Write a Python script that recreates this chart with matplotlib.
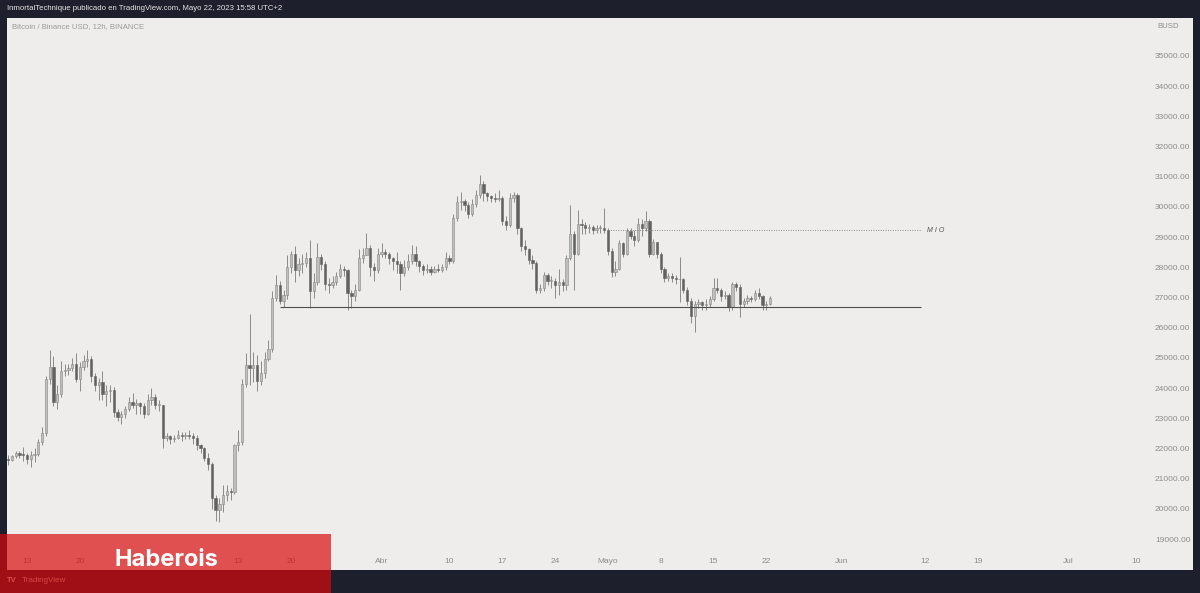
import matplotlib
matplotlib.use('Agg')
import matplotlib.pyplot as plt
import matplotlib.dates as mdates
from matplotlib.patches import Rectangle
import numpy as np
import pandas as pd

# Bitcoin / Binance USD, 12h candles, from 2023-02-10 12:00
first_open = 21650
closes = [
    21620, 21750, 21860, 21800, 21780, 21650, 21790, 21820, 22200, 22500,  # Feb 10-15
    24300, 24700, 23550, 23800, 24550, 24600, 24650, 24800, 24300, 24700,  # Feb 15-20
    24900, 24950, 24400, 24100, 24200, 23800, 23900, 23950, 23200, 23050,  # Feb 20-25
    23150, 23300, 23550, 23450, 23500, 23400, 23150, 23600, 23700, 23450,  # Feb 25-Mar 2
    23450, 22350, 22400, 22300, 22350, 22450, 22400, 22450, 22400, 22350,  # Mar 2-7
    22100, 22000, 21700, 21500, 20350, 19950, 20150, 20450, 20600, 20550,  # Mar 7-12
    22100, 22200, 24150, 24750, 24650, 24750, 24250, 24500, 24950, 25300,  # Mar 12-17
    27000, 27400, 26900, 27100, 28000, 28450, 27900, 28100, 28150, 28300,  # Mar 17-22
    27200, 27500, 28350, 28100, 27450, 27400, 27500, 27700, 27950, 27900,  # Mar 22-27
    27150, 27050, 27250, 28300, 28400, 28650, 28000, 27900, 28450, 28500,  # Mar 27-Apr 1
    28450, 28300, 28200, 28100, 27800, 28000, 28200, 28450, 28200, 28050,  # Apr 1-6
    27900, 27950, 27850, 27950, 27900, 28000, 28300, 28200, 29650, 30150,  # Apr 6-11
    30200, 30050, 29750, 30100, 30400, 30750, 30450, 30350, 30300, 30250,  # Apr 11-16
    30300, 29550, 29400, 30300, 30400, 29300, 28700, 28600, 28250, 28150,  # Apr 16-21
    27250, 27300, 27750, 27550, 27550, 27400, 27500, 27400, 28300, 29100,  # Apr 21-26
    28450, 29450, 29400, 29300, 29350, 29250, 29300, 29300, 29250, 28550,  # Apr 26-May 1
    27850, 27950, 28800, 28450, 29200, 29050, 28900, 29450, 29300, 29550,  # May 1-6
    28450, 28850, 28450, 27950, 27650, 27700, 27650, 27600, 27600, 27250,  # May 6-11
    26900, 26400, 26800, 26850, 26750, 26800, 26950, 27300, 27250, 27050,  # May 11-16
    27100, 26700, 27450, 27350, 26800, 26900, 27000, 26950, 27150, 27050,  # May 16-21
    26750, 26800, 27000,                                                   # May 21-22
]
highs = [
    21800, 21800, 21900, 21910, 22050, 21850, 21900, 22000, 22300, 22700,
    24400, 25250, 25050, 24100, 24900, 24800, 24800, 25000, 25150, 24850,
    25100, 25250, 25050, 24500, 24350, 24550, 24100, 24100, 24050, 23300,
    23250, 23400, 23700, 23850, 23650, 23550, 23500, 23800, 24000, 23800,
    23600, 23450, 22500, 22450, 22450, 22600, 22550, 22550, 22600, 22500,
    22450, 22150, 22050, 21850, 21550, 20450, 20350, 20800, 20800, 20700,
    22150, 22600, 24300, 25150, 26450, 25200, 25100, 24900, 25200, 25600,
    27200, 27750, 27550, 27250, 28400, 28550, 28700, 28300, 28450, 28500,
    28900, 27800, 28800, 28450, 28200, 27650, 27700, 27850, 28100, 28050,
    27950, 27250, 27450, 28600, 28650, 29150, 28750, 28150, 28650, 28800,
    28600, 28500, 28350, 28500, 28200, 28250, 28450, 28750, 28700, 28250,
    28100, 28100, 28050, 28050, 28100, 28100, 28500, 28400, 29750, 30350,
    30500, 30250, 30150, 30250, 30550, 31050, 30850, 30500, 30400, 30450,
    30550, 30350, 29700, 30450, 30500, 30450, 29350, 28900, 28650, 28400,
    28200, 27450, 27850, 27800, 27700, 27650, 27950, 27600, 28400, 30050,
    29200, 29900, 29600, 29500, 29450, 29400, 29400, 29400, 29950, 29300,
    28650, 28200, 28900, 28850, 29300, 29300, 29250, 29650, 29600, 29850,
    29600, 28950, 28850, 28500, 28000, 27800, 27800, 27750, 28350, 27650,
    27350, 27000, 26900, 26950, 26900, 26950, 27050, 27650, 27650, 27300,
    27200, 27150, 27500, 27500, 27450, 27000, 27100, 27050, 27250, 27300,
    27100, 26900, 27050,
]
lows = [
    21450, 21600, 21700, 21700, 21600, 21500, 21380, 21550, 21750, 22100,
    22400, 24150, 23400, 23300, 23700, 24400, 24450, 24550, 24200, 23900,
    24600, 24700, 24200, 23900, 23600, 23600, 23400, 23550, 23050, 22900,
    22800, 23000, 23250, 23350, 23150, 23150, 23000, 23100, 23450, 23300,
    23250, 22000, 22250, 22150, 22200, 22300, 22250, 22300, 22300, 22150,
    21950, 21850, 21600, 21300, 20000, 19600, 19550, 19900, 20250, 20300,
    20500, 21900, 22100, 24050, 24100, 24200, 23900, 24100, 24350, 24900,
    25200, 26900, 26800, 26700, 26950, 27800, 27500, 27700, 27800, 28000,
    26650, 27000, 27400, 27900, 27250, 27150, 27300, 27400, 27650, 27700,
    26600, 26650, 26900, 27200, 28150, 28400, 27700, 27550, 27800, 28350,
    28300, 28100, 27900, 27800, 27250, 27700, 27900, 28100, 28050, 27850,
    27750, 27800, 27750, 27800, 27850, 27850, 27900, 28100, 28150, 29550,
    29900, 29850, 29650, 29700, 30000, 30300, 30200, 30200, 30150, 30150,
    30200, 29400, 29250, 29350, 30150, 29100, 28550, 28400, 28100, 27950,
    27150, 27150, 27200, 27400, 27300, 27000, 27100, 27200, 27250, 28250,
    27250, 28400, 29100, 29100, 29150, 29100, 29150, 29150, 29150, 28400,
    27680, 27700, 27900, 28350, 28400, 28950, 28700, 28850, 29050, 29200,
    28350, 28400, 28300, 27800, 27500, 27550, 27500, 27450, 26850, 27150,
    26750, 26150, 25850, 26650, 26600, 26600, 26700, 26900, 27150, 26900,
    26950, 26550, 26600, 27200, 26350, 26700, 26800, 26850, 26900, 26950,
    26600, 26600, 26750,
]

# drawings on the chart
support_level = 26686
support_span = ('2023-03-18 12:00', '2023-06-11 12:00')
mio_level = 29236
mio_span = ('2023-05-01 00:00', '2023-06-11 12:00')

tick_dates = ['2023-02-13', '2023-02-20', '2023-03-01', '2023-03-13', '2023-03-20',
              '2023-04-01', '2023-04-10', '2023-04-17', '2023-04-24', '2023-05-01',
              '2023-05-08', '2023-05-15', '2023-05-22', '2023-06-01', '2023-06-12',
              '2023-06-19', '2023-07-01', '2023-07-10']
tick_labels = ['13', '20', 'Mar', '13', '20', 'Abr', '10', '17', '24', 'Mayo',
               '8', '15', '22', 'Jun', '12', '19', 'Jul', '10']
price_ticks = list(range(19000, 35001, 1000))

W, H = 1200, 593
dark = '#1e1f2c'
panel = '#eeedeb'
up_face, up_edge = '#bebebe', '#868686'
down_face = '#626262'
wick = '#8a8a8a'
tick_color = '#8c8c8c'
font = ['Liberation Sans', 'DejaVu Sans']

fig = plt.figure(figsize=(W / 100, H / 100), dpi=100, facecolor=dark)

def fx(px):
    return px / W

def fy(py):
    return 1 - py / H

# light chart panel (behind the axes)
fig.patches.append(Rectangle((fx(7), fy(570)), fx(1193) - fx(7), fy(18) - fy(570),
                             transform=fig.transFigure, facecolor=panel, edgecolor='none', zorder=-5))

ax = fig.add_axes([fx(7), fy(552), fx(1148) - fx(7), fy(18) - fy(552)])
ax.set_facecolor(panel)
for s in ax.spines.values():
    s.set_visible(False)

dates = pd.date_range('2023-02-10 12:00', periods=len(closes), freq='12h')
x = mdates.date2num(dates)
c = np.array(closes, dtype=float)
o = np.concatenate([[first_open], c[:-1]])
h = np.array(highs, dtype=float)
l = np.array(lows, dtype=float)
up = c >= o

ax.vlines(x, l, h, color=wick, lw=0.7, zorder=2)
bw = 0.3
body = np.where(np.abs(c - o) < 25, 25, c - o)
ax.bar(x[up], body[up], bottom=o[up], width=bw, color=up_face, edgecolor=up_edge, lw=0.4, zorder=3)
ax.bar(x[~up], body[~up], bottom=o[~up], width=bw, color=down_face, edgecolor=down_face, lw=0.4, zorder=3)

s0, s1 = mdates.date2num(pd.to_datetime(list(support_span)))
ax.hlines(support_level, s0, s1, color='#4e4e4e', lw=0.8, zorder=4)
m0, m1 = mdates.date2num(pd.to_datetime(list(mio_span)))
ax.hlines(mio_level, m0, m1, color='#8a8a8a', lw=0.7, linestyles=(0, (1, 1.5)), zorder=4)
ax.text(m1 + 0.8, mio_level, 'M I O', fontsize=5, style='italic', color='#555555',
        va='center', ha='left', family=font)

base = mdates.date2num(pd.Timestamp('2023-02-13'))
ax.set_xlim(base - 20 / 7.544, mdates.date2num(pd.Timestamp('2023-07-10')) + 12 / 7.544)
ax.set_ylim(35000 - (552 - 56) / 30.19 * 1000, 35000 + (56 - 18) / 30.19 * 1000)

ax.set_xticks(mdates.date2num(pd.to_datetime(tick_dates)))
ax.set_xticklabels(tick_labels)
ax.set_yticks(price_ticks)
ax.set_yticklabels([f'{p:.2f}' for p in price_ticks])
ax.yaxis.tick_right()
ax.tick_params(axis='both', length=0, colors=tick_color, labelsize=6)
ax.tick_params(axis='y', pad=5)
ax.tick_params(axis='x', pad=4)
for t in ax.get_xticklabels() + ax.get_yticklabels():
    t.set_family(font)

# header texts
fig.text(fx(7), fy(9), 'InmortalTechnique publicado en TradingView.com, Mayo 22, 2023 15:58 UTC+2',
         color='#e6e6e6', fontsize=5.6, va='center', ha='left', family=font)
fig.text(fx(12), fy(27), 'Bitcoin / Binance USD, 12h, BINANCE', color='#9a9a9a',
         fontsize=5.6, va='center', ha='left', family=font)
fig.text(fx(1157), fy(27), 'BUSD', color=tick_color, fontsize=5.6, va='center', ha='left', family=font)

# tradingview footer
fig.text(fx(7), fy(581), 'TV', color='#e8e8e8', fontsize=5.5, weight='bold', va='center', ha='left', family=font)
fig.text(fx(22), fy(581), 'TradingView', color='#d0d0d0', fontsize=5.8, va='center', ha='left', family=font)

# red watermark band
fig.patches.append(Rectangle((0, 0), fx(331), fy(534), transform=fig.transFigure,
                             facecolor='#da090b', alpha=0.69, edgecolor='none', zorder=10))
fig.text(fx(166), fy(566.5), 'Haberois', color='white', fontsize=17, weight='bold',
         ha='center', va='baseline', family=['Inter', 'DejaVu Sans'], zorder=11)

fig.savefig('out.png', dpi=100, facecolor=dark)
